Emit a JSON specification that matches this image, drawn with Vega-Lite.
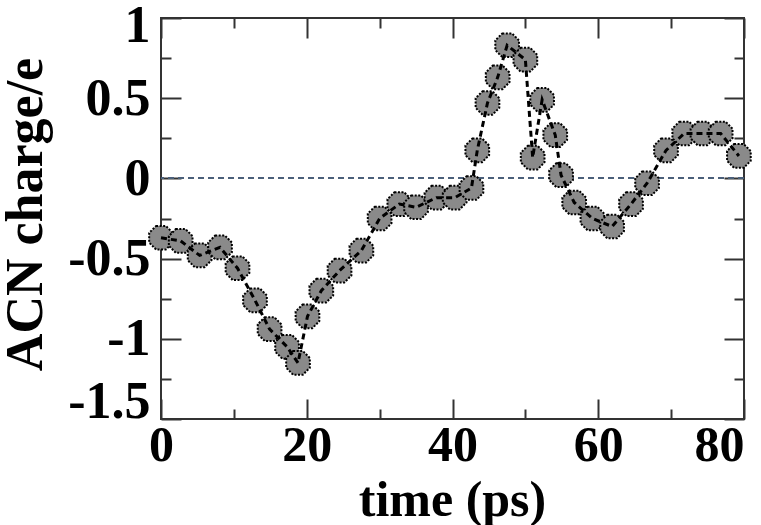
{
  "$schema": "https://vega.github.io/schema/vega-lite/v6.json",
  "autosize": "none",
  "width": 583,
  "height": 401,
  "padding": {"left": 161, "top": 18, "right": 17, "bottom": 106},
  "background": "white",
  "config": {
    "view": {"stroke": "#333333", "strokeWidth": 2},
    "axis": {
      "domain": false,
      "grid": false,
      "tickColor": "#333333",
      "tickWidth": 2,
      "labelFont": "Liberation Serif",
      "labelFontWeight": "bold",
      "labelColor": "black",
      "titleFont": "Liberation Serif",
      "titleFontWeight": "bold",
      "titleColor": "black"
    }
  },
  "data": {
    "values": [
      {"i": 1, "t": 0.0, "q": -0.37},
      {"i": 2, "t": 2.7, "q": -0.39},
      {"i": 3, "t": 5.3, "q": -0.48},
      {"i": 4, "t": 8.1, "q": -0.43},
      {"i": 5, "t": 10.5, "q": -0.56},
      {"i": 6, "t": 12.9, "q": -0.76},
      {"i": 7, "t": 14.9, "q": -0.94},
      {"i": 8, "t": 17.3, "q": -1.05},
      {"i": 9, "t": 18.8, "q": -1.15},
      {"i": 10, "t": 20.1, "q": -0.86},
      {"i": 11, "t": 22.0, "q": -0.70},
      {"i": 12, "t": 24.5, "q": -0.575},
      {"i": 13, "t": 27.5, "q": -0.45},
      {"i": 14, "t": 30.0, "q": -0.25},
      {"i": 15, "t": 32.7, "q": -0.16},
      {"i": 16, "t": 35.0, "q": -0.18},
      {"i": 17, "t": 37.8, "q": -0.12},
      {"i": 18, "t": 40.3, "q": -0.12},
      {"i": 19, "t": 42.6, "q": -0.06},
      {"i": 20, "t": 43.4, "q": 0.175},
      {"i": 21, "t": 44.8, "q": 0.47},
      {"i": 22, "t": 46.2, "q": 0.63},
      {"i": 23, "t": 47.5, "q": 0.83},
      {"i": 24, "t": 50.0, "q": 0.74},
      {"i": 25, "t": 51.0, "q": 0.13},
      {"i": 26, "t": 52.3, "q": 0.49},
      {"i": 27, "t": 54.1, "q": 0.27},
      {"i": 28, "t": 54.9, "q": 0.02},
      {"i": 29, "t": 56.7, "q": -0.15},
      {"i": 30, "t": 59.2, "q": -0.25},
      {"i": 31, "t": 61.9, "q": -0.30},
      {"i": 32, "t": 64.5, "q": -0.16},
      {"i": 33, "t": 66.7, "q": -0.03},
      {"i": 34, "t": 69.3, "q": 0.175},
      {"i": 35, "t": 71.8, "q": 0.28},
      {"i": 36, "t": 74.3, "q": 0.28},
      {"i": 37, "t": 76.8, "q": 0.28},
      {"i": 38, "t": 79.3, "q": 0.14}
    ]
  },
  "resolve": {"axis": {"x": "independent", "y": "independent"}},
  "layer": [
    {
      "mark": {"type": "rule", "color": "#4a6278", "strokeWidth": 1, "strokeDash": [6, 4]},
      "encoding": {
        "y": {"datum": 0, "type": "quantitative", "axis": null, "scale": {"domain": [-1.5, 1], "nice": false, "zero": false}}
      }
    },
    {
      "mark": {
        "type": "point",
        "shape": "M-0.41,-1L0.41,-1L1,-0.41L1,0.41L0.41,1L-0.41,1L-1,0.41L-1,-0.41Z",
        "size": 560,
        "filled": true,
        "fill": "#8a8a8a",
        "fillOpacity": 1,
        "stroke": "black",
        "strokeWidth": 2,
        "strokeDash": [2, 1.5]
      },
      "encoding": {
        "x": {
          "field": "t", "type": "quantitative",
          "scale": {"domain": [0, 80], "nice": false, "zero": false},
          "axis": {
            "orient": "bottom",
            "values": [0, 10, 20, 30, 40, 50, 60, 70, 80],
            "labelExpr": "datum.value % 20 === 0 ? '' + datum.value : ''",
            "tickSize": {"condition": {"test": "datum.value % 20 === 0", "value": -20}, "value": -10},
            "labelAlign": {"condition": {"test": "datum.value === 80", "value": "right"}, "value": "center"},
            "labelFontSize": 50,
            "labelBaseline": "alphabetic",
            "labelPadding": 61,
            "labelFlush": false,
            "title": "time (ps)",
            "titleFontSize": 50,
            "titleX": 291,
            "titleY": 96,
            "titleBaseline": "alphabetic",
            "titleAlign": "center"
          }
        },
        "y": {
          "field": "q", "type": "quantitative",
          "scale": {"domain": [-1.5, 1], "nice": false, "zero": false},
          "axis": {
            "orient": "left",
            "values": [-1.5, -1.25, -1, -0.75, -0.5, -0.25, 0, 0.25, 0.5, 0.75, 1],
            "labelExpr": "abs(datum.value * 2 - round(datum.value * 2)) < 0.001 ? '' + datum.value : ''",
            "tickSize": {"condition": {"test": "abs(datum.value * 2 - round(datum.value * 2)) < 0.001", "value": -20}, "value": -10},
            "labelOffset": {"condition": [{"test": "datum.value === 1", "value": 7}, {"test": "datum.value === -1.5", "value": -18}], "value": 0},
            "labelFontSize": 52,
            "labelPadding": 31,
            "labelFlush": false,
            "title": "ACN charge/e",
            "titleFontSize": 52,
            "titleX": -120,
            "titleY": 196,
            "titleAngle": -90,
            "titleBaseline": "alphabetic",
            "titleAlign": "center"
          }
        }
      }
    },
    {
      "mark": {"type": "line", "color": "black", "strokeWidth": 3, "strokeDash": [6, 4]},
      "encoding": {
        "x": {
          "field": "t", "type": "quantitative",
          "scale": {"domain": [0, 80], "nice": false, "zero": false},
          "axis": {
            "orient": "top",
            "values": [0, 10, 20, 30, 40, 50, 60, 70, 80],
            "labels": false,
            "title": null,
            "tickSize": {"condition": {"test": "datum.value % 20 === 0", "value": -20}, "value": -10}
          }
        },
        "y": {
          "field": "q", "type": "quantitative",
          "scale": {"domain": [-1.5, 1], "nice": false, "zero": false},
          "axis": {
            "orient": "right",
            "values": [-1.5, -1.25, -1, -0.75, -0.5, -0.25, 0, 0.25, 0.5, 0.75, 1],
            "labels": false,
            "title": null,
            "tickSize": {"condition": {"test": "abs(datum.value * 2 - round(datum.value * 2)) < 0.001", "value": -20}, "value": -10}
          }
        },
        "order": {"field": "i", "type": "quantitative"}
      }
    }
  ]
}
